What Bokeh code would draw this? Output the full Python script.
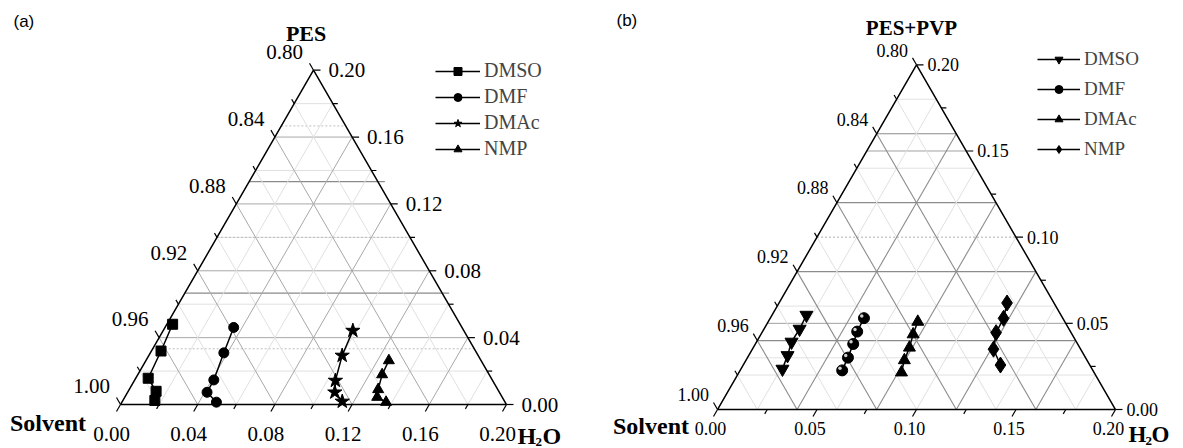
import numpy as np
from bokeh.plotting import figure
from bokeh.layouts import row
from bokeh.models import Range1d, Legend, LegendItem
from bokeh.core.properties import value
from bokeh.embed import file_html
from bokeh.resources import INLINE

# ---------------- data (mass fractions; solvent = 1 - H2O - polymer) ----------------
series_names = ["DMSO", "DMF", "DMAc", "NMP"]

# panel (a): PES
a_dmso_h2o = [0.003, 0.005, 0.0065, 0.0145, 0.0166]
a_dmso_pes = [0.048, 0.032, 0.0157, 0.0079, 0.0024]
a_dmf_h2o = [0.0356, 0.0381, 0.0410, 0.0412, 0.0490]
a_dmf_pes = [0.0461, 0.0309, 0.0147, 0.0073, 0.0014]
a_dmac_h2o = [0.0983, 0.1002, 0.1042, 0.1074, 0.1140]
a_dmac_pes = [0.0442, 0.0293, 0.0143, 0.0073, 0.0018]
a_nmp_h2o = [0.1259, 0.1266, 0.1290, 0.1308, 0.1369]
a_nmp_pes = [0.0263, 0.0179, 0.0090, 0.0044, 0.0014]

# panel (b): PES+PVP
b_dmso_h2o = [0.0173, 0.0179, 0.0176, 0.0195, 0.0209]
b_dmso_pol = [0.0548, 0.0467, 0.0392, 0.0314, 0.0235]
b_dmf_h2o = [0.0471, 0.0476, 0.0492, 0.0505, 0.0513]
b_dmf_pol = [0.0530, 0.0452, 0.0380, 0.0301, 0.0227]
b_dmac_h2o = [0.0752, 0.0765, 0.0785, 0.0796, 0.0817]
b_dmac_pol = [0.0509, 0.0436, 0.0359, 0.0286, 0.0215]
b_nmp_h2o = [0.1146, 0.1173, 0.1177, 0.1212, 0.1293]
b_nmp_pol = [0.0618, 0.0529, 0.0446, 0.0350, 0.0258]

# tick values
a_left_major = [0.00, 0.04, 0.08, 0.12, 0.16, 0.20]
a_right_major = [0.00, 0.04, 0.08, 0.12, 0.16, 0.20]
a_bottom_major = [0.00, 0.04, 0.08, 0.12, 0.16, 0.20]
b_left_major = [0.00, 0.04, 0.08, 0.12, 0.16, 0.20]
b_right_major = [0.00, 0.05, 0.10, 0.15, 0.20]
b_bottom_major = [0.00, 0.05, 0.10, 0.15, 0.20]

SQ3 = np.sqrt(3) / 2
SERIF = "Liberation Serif"
HEAVY = "Liberation Serif"
H = 448


def tern(w, p):
    w = np.asarray(w, float)
    p = np.asarray(p, float)
    return (w + p / 2) / 0.2, (p / 0.2) * SQ3


def make_panel(g):
    S, ox, oy, fl, fw = g["S"], g["ox"], g["oy"], g["fl"], g["fw"]

    def pd(px, py):
        return (px - ox) / S, (oy - py) / S

    f = figure(width=fw, height=H, output_backend="svg", toolbar_location=None,
               x_range=Range1d((fl - ox) / S, (fl + fw - ox) / S),
               y_range=Range1d((oy - H) / S, oy / S),
               min_border=0, x_axis_location=None, y_axis_location=None)
    f.grid.visible = False
    f.outline_line_color = None
    f.background_fill_color = "white"

    # ---- grid lines ----
    def hline(c, color, width, dash, ext=0):
        x0, y0 = tern(0, c)
        x1, y1 = tern(0.2 - c, c)
        f.line([float(x0), float(x1) + ext / S], [float(y0), float(y1)], line_color=color,
               line_width=width, line_dash=dash)

    def wline(c, color, width, dash):
        x0, y0 = tern(c, 0)
        x1, y1 = tern(c, 0.2 - c)
        f.line([float(x0), float(x1)], [float(y0), float(y1)], line_color=color,
               line_width=width, line_dash=dash)

    def sline(c, color, width, dash):
        x0, y0 = tern(c, 0)
        x1, y1 = tern(0, c)
        f.line([float(x0), float(x1)], [float(y0), float(y1)], line_color=color,
               line_width=width, line_dash=dash)

    for c, color, width, dash, ext in g["hgrid"]:
        hline(c, color, width, dash, ext)
    for c, color, width, dash in g["dgrid"]:
        wline(c, color, width, dash)
        sline(c, color, width, dash)

    # ---- triangle frame ----
    tx, ty = tern([0, 0.2, 0, 0], [0, 0, 0.2, 0])
    f.line(tx, ty, line_color="black", line_width=1.5)

    # ---- ticks & labels ----
    fs = g["tick_fs"]
    dl = (-0.5, SQ3)
    db = (-0.5, -SQ3)
    dr = (1.0, 0.0)

    def tick(x, y, d, L):
        f.line([x, x + d[0] * L / S], [y, y + d[1] * L / S], line_color="black", line_width=1.2)

    for t in g["left_minor"]:
        x, y = tern(0, t)
        tick(float(x), float(y), dl, 5)
    for t in g["left_major"]:
        x, y = tern(0, t)
        x, y = float(x), float(y)
        tick(x, y, dl, 8)
        lx, ly = x + dl[0] * g["lo"] / S, y + dl[1] * g["lo"] / S
        f.text([lx], [ly], text=[f"{1 - t:.2f}"], text_font=value(SERIF), text_font_size=fs,
               text_align="right", text_baseline="middle", text_color="black")
    for t in g["right_minor"]:
        x, y = tern(0.2 - t, t)
        tick(float(x), float(y), dr, 5)
    for t in g["right_major"]:
        x, y = tern(0.2 - t, t)
        x, y = float(x), float(y)
        tick(x, y, dr, 7)
        f.text([x + g["ro"] / S], [y], text=[f"{t:.2f}"], text_font=value(SERIF), text_font_size=fs,
               text_align="left", text_baseline="middle", text_color="black")
    for t in g["bottom_minor"]:
        x, y = tern(t, 0)
        tick(float(x), float(y), db, 5)
    for t in g["bottom_major"]:
        x, y = tern(t, 0)
        x, y = float(x), float(y)
        tick(x, y, db, 8)
        f.text([x + g["bo"][0] / S], [y - g["bo"][1] / S], text=[f"{t:.2f}"], text_font=value(SERIF),
               text_font_size=fs, text_align="center", text_baseline="middle", text_color="black")

    # ---- data series ----
    items = []
    for name, w, p, marker, size, sphere in g["series"]:
        X, Y = tern(w, p)
        lr = f.line(X, Y, line_color="black", line_width=1.5)
        sr = f.scatter(X, Y, marker=marker, size=size, fill_color="black", line_color="black")
        if sphere:
            f.scatter(X - 2.2 / S, Y + 2.2 / S, marker="circle", size=3.5,
                      fill_color="#d0d0d0", line_color=None)
        items.append(LegendItem(label=name, renderers=[lr, sr]))

    leg = Legend(items=items, location=g["leg_loc"], glyph_width=g["leg_gw"], glyph_height=20,
                 label_height=20, spacing=g["leg_sp"], padding=0, margin=0, label_standoff=4,
                 label_text_font=SERIF, label_text_font_size=g["leg_fs"], border_line_color=None,
                 background_fill_alpha=0)
    f.add_layout(leg)

    # ---- corner / title texts ----
    for txt, px, py, font, size, style, align, base in g["texts"]:
        x, y = pd(px, py)
        f.text([x], [y], text=[txt], text_font=value(font), text_font_size=size, text_font_style=style,
               text_align=align, text_baseline=base, text_color="black")
    return f


def steps(lo, hi, st):
    return [round(v, 4) for v in np.arange(lo, hi + 1e-9, st)]


geom_a = dict(
    S=386.0, ox=120.0, oy=404.0, fl=0, fw=592, tick_fs="21px", lo=21, ro=15, bo=(-9, 29),
    hgrid=[(c, "#e0e0e0", 1, "solid", 0) for c in [0.02, 0.06, 0.10, 0.14, 0.18]]
    + [(c, "#bdbdbd", 1, "2 2", 0) for c in [1 / 30, 0.10, 1 / 6]]
    + [(c, "#a8a8a8", 1, "solid", 0) for c in [0.04, 0.08, 0.12, 0.16]]
    + [(c, "#8a8a8a", 1.3, "solid", 7) for c in [1 / 15, 2 / 15]],
    dgrid=[(c, "#e0e0e0", 1, "solid") for c in [0.02, 0.06, 0.10, 0.14, 0.18]]
    + [(c, "#a8a8a8", 1, "solid") for c in [0.04, 0.08, 0.12, 0.16]],
    left_major=a_left_major, left_minor=steps(0.02, 0.18, 0.04),
    right_major=a_right_major, right_minor=steps(0.02, 0.18, 0.04),
    bottom_major=a_bottom_major, bottom_minor=steps(0.02, 0.18, 0.04),
    series=[("DMSO", a_dmso_h2o, a_dmso_pes, "square", 10, False),
            ("DMF", a_dmf_h2o, a_dmf_pes, "circle", 10, False),
            ("DMAc", a_dmac_h2o, a_dmac_pes, "star", 15, False),
            ("NMP", a_nmp_h2o, a_nmp_pes, "triangle", 11, False)],
    leg_loc=(435, 288), leg_gw=45, leg_sp=3, leg_fs="20px",
    texts=[("(a)", 13, 21, "Liberation Sans", "17px", "normal", "left", "middle"),
           ("PES", 305.6, 33, HEAVY, "22px", "bold", "center", "alphabetic"),
           ("Solvent", 47.5, 422, HEAVY, "24px", "bold", "center", "alphabetic"),
           ("H", 517, 435, HEAVY, "24px", "bold", "left", "alphabetic"),
           ("2", 535, 441, HEAVY, "13px", "bold", "left", "alphabetic"),
           ("O", 542, 435, HEAVY, "24px", "bold", "left", "alphabetic")],
)

geom_b = dict(
    S=398.0, ox=717.0, oy=409.0, fl=592, fw=591, tick_fs="18px", lo=17, ro=11, bo=(-7, 19),
    hgrid=[(c, "#e2e2e2", 1, "solid", 0) for c in [0.02, 0.03, 0.06, 0.14, 0.18]]
    + [(c, "#b0b0b0", 1, "2 2", 0) for c in [0.10]]
    + [(c, "#a0a0a0", 1, "solid", 0) for c in [0.05, 0.15]]
    + [(c, "#8c8c8c", 1.2, "solid", 0) for c in [0.04, 0.08, 0.12, 0.16]],
    dgrid=[(c, "#e0e0e0", 1, "solid") for c in [0.02, 0.06, 0.10, 0.14, 0.18]]
    + [(c, "#8c8c8c", 1.1, "solid") for c in [0.04, 0.08, 0.12, 0.16]],
    left_major=b_left_major, left_minor=steps(0.02, 0.18, 0.04),
    right_major=b_right_major, right_minor=steps(0.025, 0.175, 0.05),
    bottom_major=b_bottom_major, bottom_minor=steps(0.025, 0.175, 0.05),
    series=[("DMSO", b_dmso_h2o, b_dmso_pol, "inverted_triangle", 13, False),
            ("DMF", b_dmf_h2o, b_dmf_pol, "circle", 11, True),
            ("DMAc", b_dmac_h2o, b_dmac_pol, "triangle", 12, False),
            ("NMP", b_nmp_h2o, b_nmp_pol, "diamond", 16, False)],
    leg_loc=(445, 288), leg_gw=43, leg_sp=8, leg_fs="19px",
    texts=[("(b)", 616, 20, "Liberation Sans", "17px", "normal", "left", "middle"),
           ("PES+PVP", 911, 27, HEAVY, "21px", "bold", "center", "alphabetic"),
           ("Solvent", 650.5, 425, HEAVY, "24px", "bold", "center", "alphabetic"),
           ("H", 1128, 434, HEAVY, "23px", "bold", "left", "alphabetic"),
           ("2", 1145, 440, HEAVY, "13px", "bold", "left", "alphabetic"),
           ("O", 1151, 434, HEAVY, "23px", "bold", "left", "alphabetic")],
)

pa = make_panel(geom_a)
pb = make_panel(geom_b)
layout = row(pa, pb)
open("out.html", "w").write(file_html(layout, INLINE))
